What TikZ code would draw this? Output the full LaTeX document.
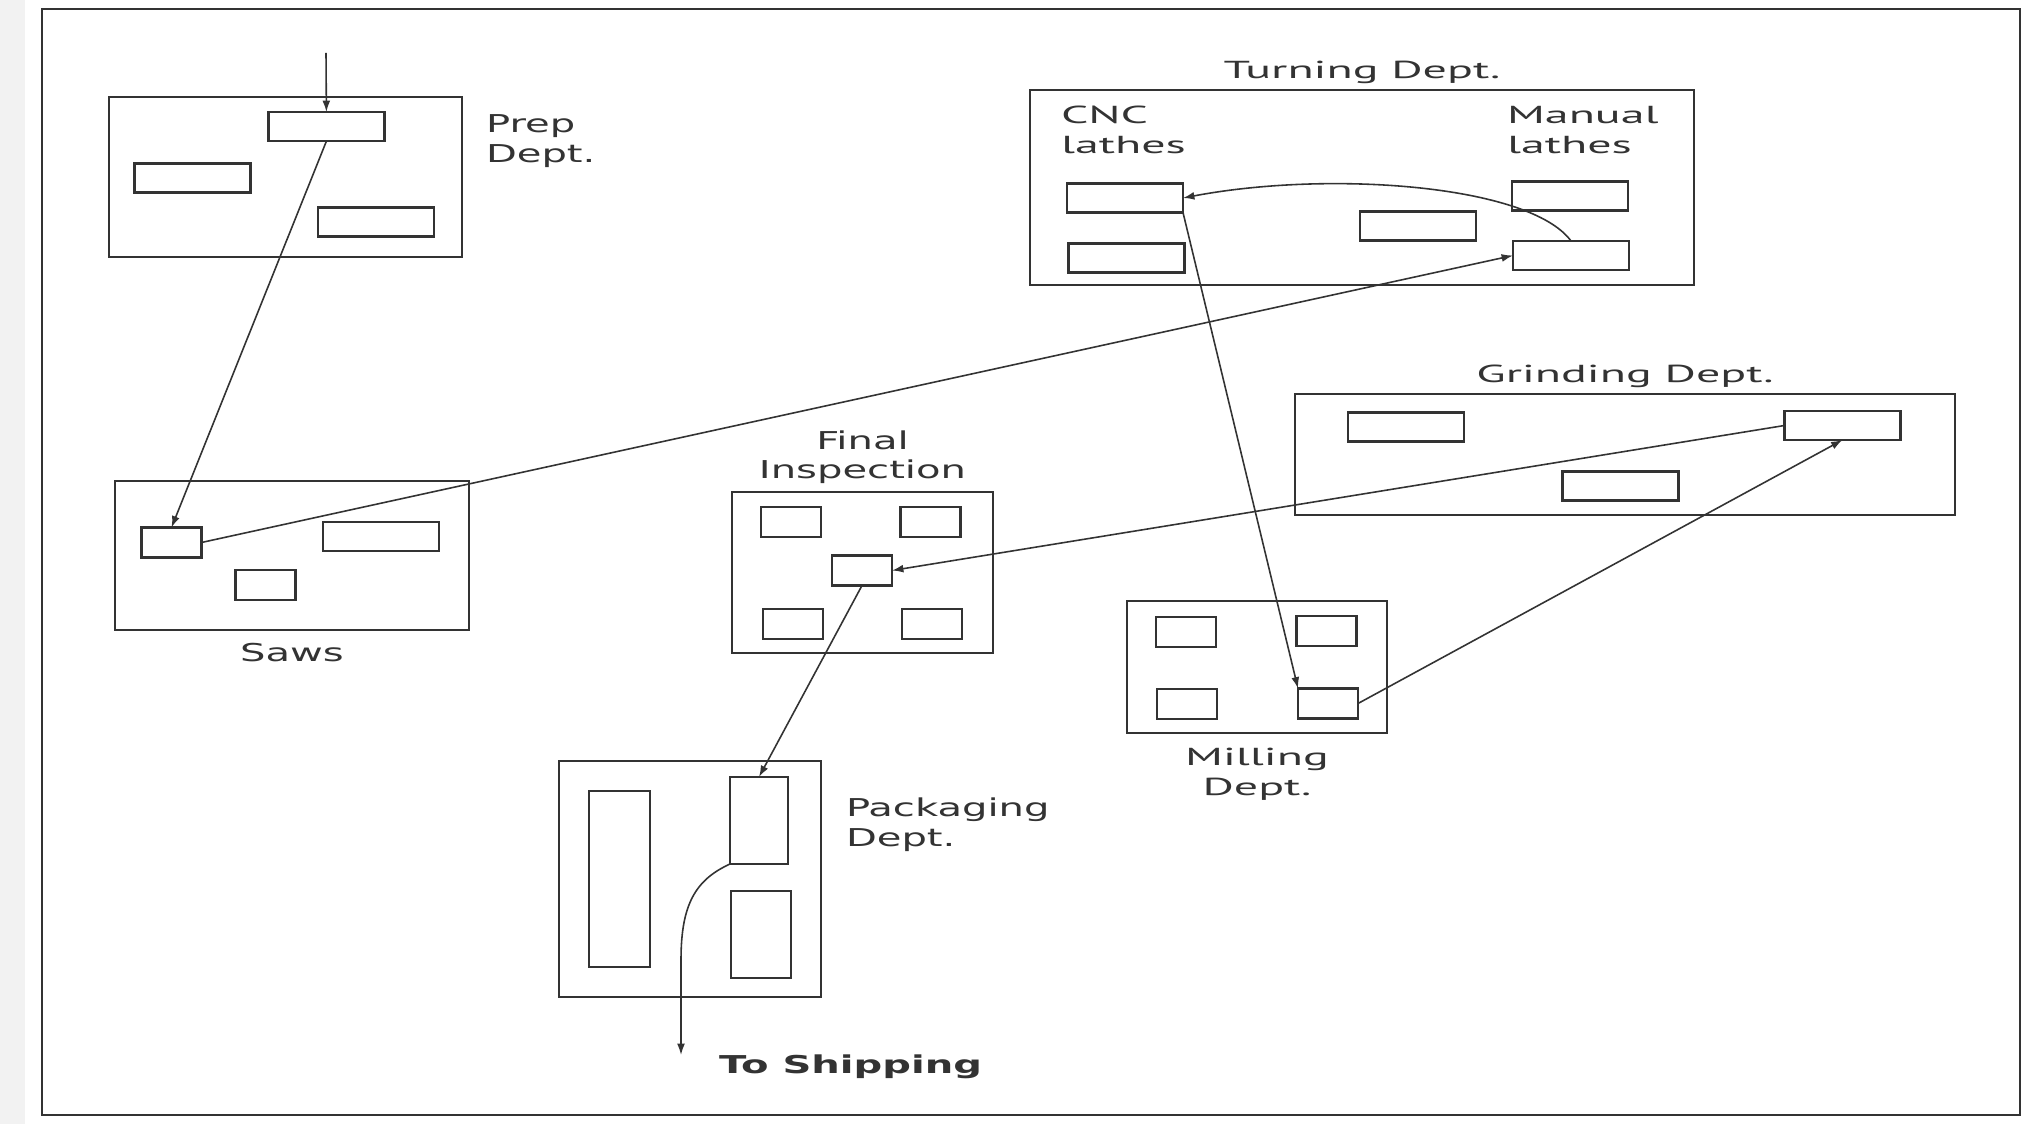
\documentclass[tikz,border=0pt]{standalone}
\usepackage{fontspec}
\setmainfont{DejaVu Sans}[FakeStretch=1.63]
\newfontfamily\narrowsans{PT Sans}[FakeStretch=1.95]
\definecolor{inkgray}{HTML}{333333}
\usetikzlibrary{arrows.meta,positioning}

\begin{document}
\begin{tikzpicture}[
  x=0.02cm, y=-0.02cm,
  every node/.style={inner sep=0pt, outer sep=0pt},
  dept/.style={rectangle, draw=inkgray, line width=1.3pt},
  machine/.style={rectangle, draw=inkgray, line width=1.2pt, minimum width=2.32cm, minimum height=0.58cm},
  cell/.style={rectangle, draw=inkgray, line width=1.2pt, minimum width=1.2cm, minimum height=0.6cm},
  flow/.style={-{Latex[length=6.5pt,width=4.5pt]}, line width=0.9pt, inkgray},
  lbl/.style={font=\fontsize{14}{17}\selectfont, text=inkgray, align=left},
  nlbl/.style={font=\fontsize{14}{17}\selectfont\narrowsans, text=inkgray, align=left},
]
\fill[white] (0,0) rectangle (2035,1124);
\useasboundingbox (0,0) rectangle (2035,1124);
\fill[gray!10] (0,0) rectangle (25,1124);
\draw[inkgray, line width=1.4pt] (42,9) rectangle (2020,1115);

% departments
\node[dept, minimum width=7.06cm, minimum height=3.2cm] (prep) at (285.5,177) {};
\node[dept, minimum width=7.08cm, minimum height=2.98cm] (saws) at (292,555.5) {};
\node[dept, minimum width=13.28cm, minimum height=3.9cm] (turning) at (1362,187.5) {};
\node[dept, minimum width=13.2cm, minimum height=2.42cm] (grinding) at (1625,454.5) {};
\node[dept, minimum width=5.22cm, minimum height=3.22cm] (final) at (862.5,572.5) {};
\node[dept, minimum width=5.2cm, minimum height=2.64cm] (milling) at (1257,667) {};
\node[dept, minimum width=5.24cm, minimum height=4.72cm] (packaging) at (690,879) {};

% machines
\node[machine] (p1) at (326.5,126.5) {};
\node[machine] (p2) at (192.5,178) {};
\node[machine] (p3) at (376,222) {};
\node[cell] (s1) at (171.5,542.5) {};
\node[machine] (s2) at (381,536.5) {};
\node[cell] (s3) at (265.5,585) {};
\node[machine] (c1) at (1125,198) {};
\node[machine] (c2) at (1126.5,258) {};
\node[machine] (t3) at (1418,226) {};
\node[machine] (m1) at (1570,196) {};
\node[machine] (m2) at (1571,255.5) {};
\node[machine] (g1) at (1406,427) {};
\node[machine] (g2) at (1842.5,425.5) {};
\node[machine] (g3) at (1620.5,486) {};
\node[cell] (f1) at (791,522) {};
\node[cell] (f2) at (930.5,522) {};
\node[cell] (f5) at (862,570.5) {};
\node[cell] (f3) at (793,624) {};
\node[cell] (f4) at (932,624) {};
\node[cell] (l1) at (1186,632) {};
\node[cell] (l2) at (1326.5,631) {};
\node[cell] (l3) at (1187,704) {};
\node[cell] (l4) at (1328,703.5) {};
\node[rectangle, draw=inkgray, line width=1.2pt, minimum width=1.22cm, minimum height=3.52cm] (k1) at (619.5,879) {};
\node[rectangle, draw=inkgray, line width=1.2pt, minimum width=1.16cm, minimum height=1.74cm] (k2) at (759,820.5) {};
\node[rectangle, draw=inkgray, line width=1.2pt, minimum width=1.2cm, minimum height=1.74cm] (k3) at (761,934.5) {};

% labels
\node[lbl, anchor=north west] (preplbl) at (486,115) {Prep\\Dept.};
\node[lbl, below=0.26cm of saws] (sawslbl) {Saws};
\node[nlbl, above=0.12cm of turning] (turnlbl) {Turning Dept.};
\node[nlbl, anchor=north west] (cnclbl) at (1061,106) {CNC\\lathes};
\node[nlbl, anchor=north west] (manlbl) at (1507,106) {Manual\\lathes};
\node[nlbl, above=0.12cm of grinding] (grindlbl) {Grinding Dept.};
\node[lbl, align=center, above=0.16cm of final] (finallbl) {Final\\Inspection};
\node[nlbl, align=center, below=0.3cm of milling] (milllbl) {Milling\\Dept.};
\node[lbl, anchor=north west] (packlbl) at (846,798) {Packaging\\Dept.};
\node[lbl, font=\fontsize{14}{17}\selectfont\bfseries, anchor=base west] (shiplbl) at (719,1073) {To Shipping};

% flow of parts
\coordinate (feed) at (326,53);
\coordinate (ship) at (681,1055);
\draw[flow] (feed) -- (p1);
\draw[flow] (p1.south) -- (s1.north);
\draw[flow] (s1.east) -- (m2.west);
\draw[flow] (m2.north) .. controls (1530,185) and (1330,170) .. (c1.east);
\draw[flow] (c1.south east) -- (l4.north west);
\draw[flow] (l4.east) -- (g2.south);
\draw[flow] (g2.west) -- (f5.east);
\draw[flow] (f5.south) -- (k2.north);
\draw[flow] (k2.south west) .. controls (695,880) and (681,905) .. (681,960) -- (ship);
\end{tikzpicture}
\end{document}
